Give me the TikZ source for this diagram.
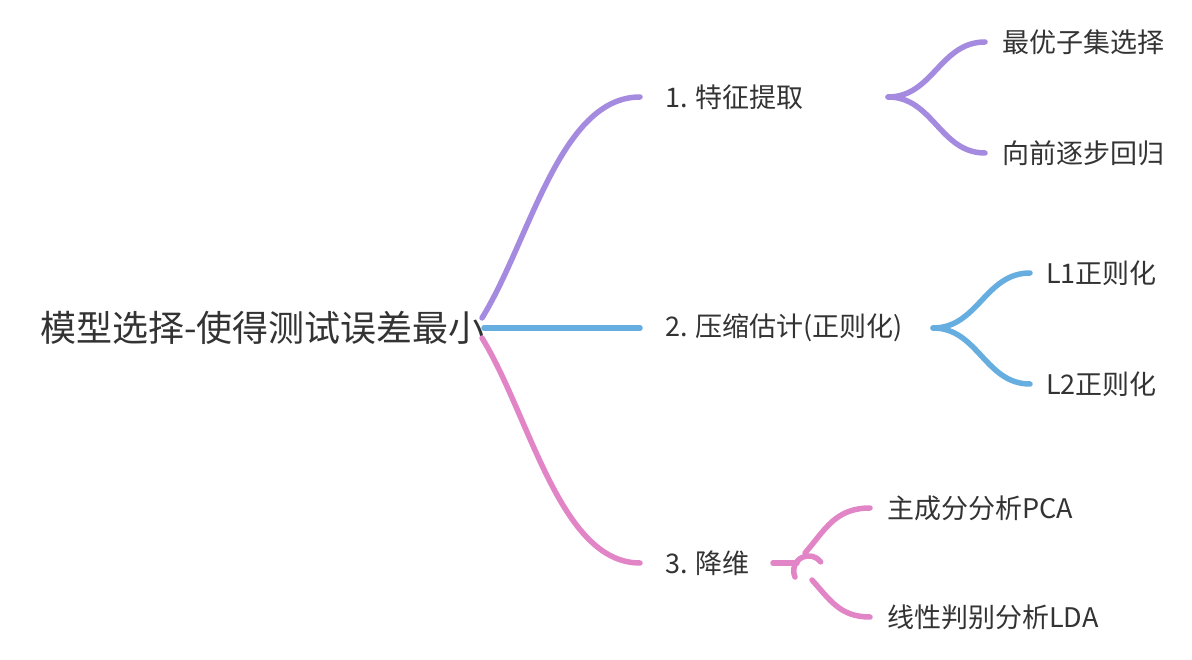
\documentclass[tikz,border=0pt]{standalone}
\usepackage{fontspec}
\setmainfont{Noto Sans CJK SC}
\usetikzlibrary{calc}

\definecolor{textgray}{HTML}{333333}
\definecolor{purplebranch}{HTML}{A58BE0}
\definecolor{bluebranch}{HTML}{67AEE0}
\definecolor{pinkbranch}{HTML}{E185C7}

\tikzset{
    root node/.style={anchor=west,inner sep=0,text=textgray,font=\fontsize{36}{40}\selectfont},
    topic node/.style={anchor=west,inner sep=0,text=textgray,font=\fontsize{27}{30}\selectfont},
    leaf node/.style={anchor=west,inner sep=0,text=textgray,font=\fontsize{27}{30}\selectfont},
    branch line/.style={line width=5.5pt,line cap=round}
    }

\begin{document}
\begin{tikzpicture}[x=1pt,y=-1pt]
    \useasboundingbox (0,0) rectangle (1192,660);
    % The root and the three topics
    \node(root)[root node] at (40,328) {模型选择-使得测试误差最小};
    \node(c1)[topic node] at (665,97) {1. 特征提取};
    \node(c2)[topic node] at (665,328) {2. 压缩估计(正则化)};
    \node(c3)[topic node] at (665,563) {3. 降维};
    % The leaves
    \node(c11)[leaf node] at (1002,42) {最优子集选择};
    \node(c12)[leaf node] at (1002,153) {向前逐步回归};
    \node(c21)[leaf node] at (1046,273) {L1正则化};
    \node(c22)[leaf node] at (1046,384) {L2正则化};
    \node(c31)[leaf node] at (887,508) {主成分分析PCA};
    \node(c32)[leaf node] at (887,617) {线性判别分析LDA};

    % Root to topics
    \draw[branch line,purplebranch] ($(root.west)+(442,-10)$)
        .. controls +(48,-78) and +(-80,0) .. ($(c1.west)+(-25,0)$);
    \draw[branch line,bluebranch] ($(root.west)+(444,0)$) -- ($(c2.west)+(-25,0)$);
    \draw[branch line,pinkbranch] ($(root.west)+(442,10)$)
        .. controls +(48,78) and +(-80,0) .. ($(c3.west)+(-25,0)$);

    % Topic 1 to leaves
    \draw[branch line,purplebranch] ($(c1.west)+(223,0)$)
        .. controls +(45,0) and +(-45,0) .. ($(c11.west)+(-17,0)$);
    \draw[branch line,purplebranch] ($(c1.west)+(223,0)$)
        .. controls +(45,0) and +(-45,0) .. ($(c12.west)+(-17,0)$);
    % Topic 2 to leaves
    \draw[branch line,bluebranch] ($(c2.west)+(268,0)$)
        .. controls +(45,0) and +(-45,0) .. ($(c21.west)+(-16,0)$);
    \draw[branch line,bluebranch] ($(c2.west)+(268,0)$)
        .. controls +(45,0) and +(-45,0) .. ($(c22.west)+(-16,0)$);
    % Topic 3 to leaves
    \draw[branch line,pinkbranch] ($(c3.west)+(108,0)$) -- +(24,0);
    \draw[branch line,pinkbranch] ($(c3.west)+(130,14)$) arc[start angle=204,end angle=37,radius=15pt];
    \draw[branch line,pinkbranch] ($(c3.west)+(140,-10)$)
        .. controls +(20,-23) and +(-35,0) .. ($(c31.west)+(-17,0)$);
    \draw[branch line,pinkbranch] ($(c3.west)+(147,17)$)
        .. controls +(18,20) and +(-30,0) .. ($(c32.west)+(-17,0)$);
\end{tikzpicture}
\end{document}
